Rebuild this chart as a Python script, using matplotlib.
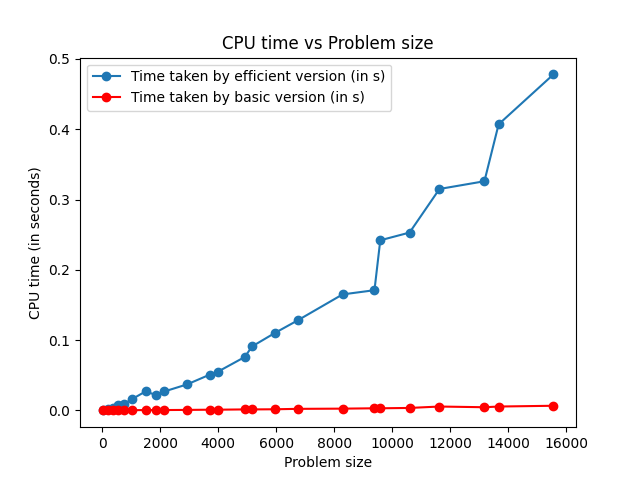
import matplotlib
matplotlib.use("Agg")
import matplotlib.pyplot as plt

sizes = [16, 200, 370, 550, 750, 1030, 1500, 1850, 2150, 2930, 3720, 3990,
         4920, 5170, 5950, 6740, 8290, 9390, 9590, 10600, 11630, 13180, 13670, 15560]
efficient = [0.001, 0.002, 0.004, 0.007, 0.009, 0.016, 0.027, 0.022, 0.027, 0.037,
             0.051, 0.055, 0.076, 0.091, 0.110, 0.128, 0.165, 0.171, 0.242, 0.253,
             0.315, 0.326, 0.407, 0.478]
basic = [0.0, 0.0, 0.0, 0.0, 0.0, 0.0003, 0.0005, 0.0005, 0.0005, 0.0007, 0.001,
         0.001, 0.0014, 0.0014, 0.0016, 0.0022, 0.0025, 0.003, 0.003, 0.0035,
         0.0055, 0.0045, 0.0055, 0.0066]

fig, ax = plt.subplots(figsize=(6.4, 4.8), dpi=100)
ax.plot(sizes, efficient, marker='o', label='Time taken by efficient version (in s)')
ax.plot(sizes, basic, marker='o', color='red', label='Time taken by basic version (in s)')
ax.set_title('CPU time vs Problem size')
ax.set_xlabel('Problem size')
ax.set_ylabel('CPU time (in seconds)')
ax.legend(loc='upper left')
fig.savefig('out.png', dpi=100)
